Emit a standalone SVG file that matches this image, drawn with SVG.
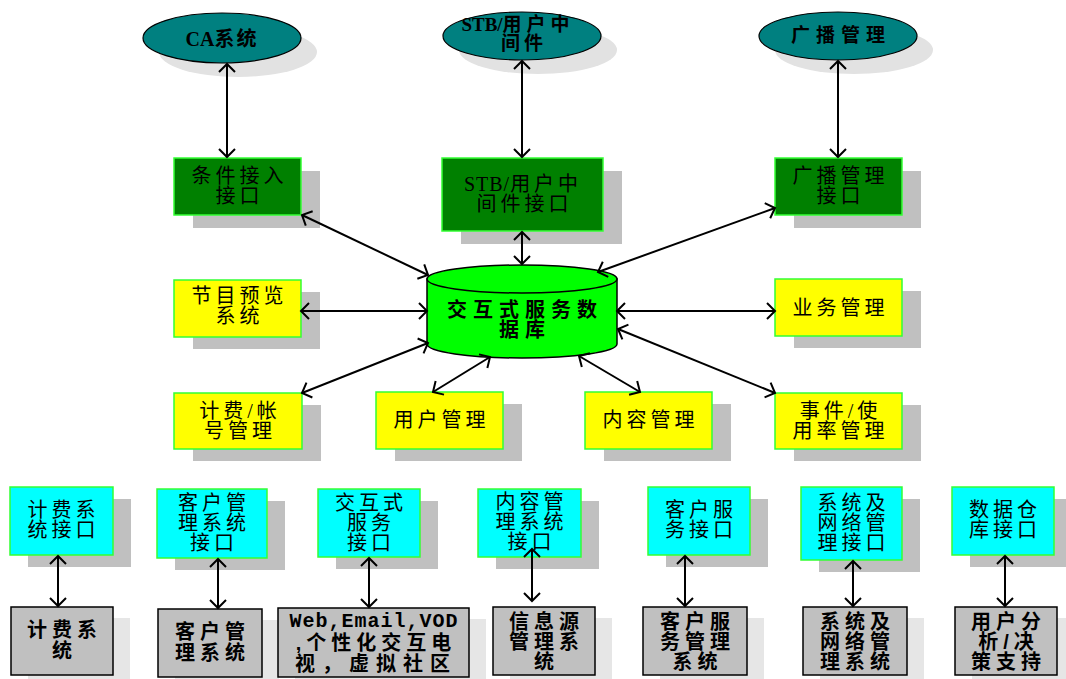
<svg xmlns="http://www.w3.org/2000/svg" width="1066" height="679" viewBox="0 0 1066 679">
<style>
.t{font-family:"Liberation Serif","Noto Sans CJK SC",serif;font-size:20px;letter-spacing:4px;text-anchor:middle;fill:#000}
.b{font-family:"Liberation Sans","Noto Sans CJK SC",sans-serif;font-weight:bold;font-size:20px;letter-spacing:5px;text-anchor:middle;fill:#000}
.m{font-family:"Liberation Mono","Noto Sans CJK SC",monospace;font-weight:bold;font-size:20px;letter-spacing:1px;text-anchor:middle;fill:#000}
.e{font-family:"Liberation Serif","Noto Sans CJK SC",serif;font-weight:bold;font-size:19px;text-anchor:middle;fill:#000}
.lat{letter-spacing:1px}
.ell{fill:#008080;stroke:#000;stroke-width:1.2}
.esh{fill:#e2e2e2}
.sh{fill:#c0c0c0}
.sh2{fill:#e6e6e6}
.g{fill:#008000;stroke:#33ff33;stroke-width:1.5}
.y{fill:#ffff00;stroke:#33ff33;stroke-width:1.5}
.c{fill:#00ffff;stroke:#33ff33;stroke-width:1.5}
.d{fill:#c0c0c0;stroke:#000;stroke-width:1.5}
.ln{stroke:#000;stroke-width:2;fill:none;marker-start:url(#ah);marker-end:url(#ah)}
</style>
<defs>
<marker id="ah" viewBox="-12 -12 24 24" markerWidth="24" markerHeight="24" refX="0" refY="0" markerUnits="userSpaceOnUse" orient="auto-start-reverse">
<path d="M-8,-8 L0,0 L-8,8" fill="none" stroke="#000" stroke-width="2"/>
</marker>
</defs>
<rect width="1066" height="679" fill="#fff"/>

<g id="ca">
<ellipse class="esh" cx="238" cy="52" rx="79" ry="25"/>
<ellipse class="ell" cx="222" cy="38" rx="79" ry="25"/>
<text class="e" x="222" y="46" style="font-size:20px">CA<tspan style="letter-spacing:2px">系统</tspan></text>
</g>
<g id="stb">
<ellipse class="esh" cx="538" cy="50" rx="79" ry="24"/>
<ellipse class="ell" cx="522" cy="36" rx="79" ry="24"/>
<text class="e" x="518" y="31">STB/<tspan style="letter-spacing:5px">用户中</tspan></text>
<text class="e" x="524" y="50" style="letter-spacing:4px">间件</text>
</g>
<g id="bc">
<ellipse class="esh" cx="854" cy="50" rx="79" ry="24"/>
<ellipse class="ell" cx="838" cy="36" rx="79" ry="24"/>
<text class="e" x="841" y="42" style="letter-spacing:6px">广播管理</text>
</g>

<g id="g1">
<rect class="sh" x="193" y="171" width="127" height="57"/>
<rect class="g" x="174" y="158" width="127" height="57"/>
<text class="t" x="239.5" y="183">条件接入</text>
<text class="t" x="239.5" y="203">接口</text>
</g>
<g id="g2">
<rect class="sh" x="461" y="171" width="161" height="73"/>
<rect class="g" x="442" y="158" width="161" height="73"/>
<text class="t" x="523" y="191"><tspan class="lat">STB/</tspan>用户中</text>
<text class="t" x="524.5" y="211">间件接口</text>
</g>
<g id="g3">
<rect class="sh" x="794" y="171" width="127" height="57"/>
<rect class="g" x="775" y="158" width="127" height="57"/>
<text class="t" x="840.5" y="183">广播管理</text>
<text class="t" x="840.5" y="203">接口</text>
</g>

<g id="db">
<path d="M427,279 V344 A95,14 0 0 0 617,344 V279 Z" fill="#00ff00" stroke="#000" stroke-width="1.5"/>
<ellipse cx="522" cy="279" rx="95" ry="14" fill="#00ff00" stroke="#000" stroke-width="1.5"/>
<text class="b" x="525" y="317" style="font-size:20px;letter-spacing:6px">交互式服务数</text>
<text class="b" x="525" y="337" style="font-size:20px;letter-spacing:6px">据库</text>
</g>

<g id="y1">
<rect class="sh" x="193" y="292" width="127" height="57"/>
<rect class="y" x="174" y="280" width="127" height="57"/>
<text class="t" x="239.5" y="303">节目预览</text>
<text class="t" x="239.5" y="323">系统</text>
</g>
<g id="y2">
<rect class="sh" x="794" y="291" width="127" height="57"/>
<rect class="y" x="775" y="279" width="127" height="57"/>
<text class="t" x="840.5" y="315">业务管理</text>
</g>
<g id="y3">
<rect class="sh" x="193" y="405" width="128" height="56"/>
<rect class="y" x="174" y="393" width="128" height="56"/>
<text class="t" x="240" y="418">计费/帐</text>
<text class="t" x="240" y="438">号管理</text>
</g>
<g id="y4">
<rect class="sh" x="395" y="404" width="127" height="57"/>
<rect class="y" x="376" y="392" width="127" height="57"/>
<text class="t" x="441.5" y="427">用户管理</text>
</g>
<g id="y5">
<rect class="sh" x="604" y="404" width="127" height="57"/>
<rect class="y" x="585" y="392" width="127" height="57"/>
<text class="t" x="650.5" y="427">内容管理</text>
</g>
<g id="y6">
<rect class="sh" x="794" y="405" width="127" height="56"/>
<rect class="y" x="775" y="393" width="127" height="56"/>
<text class="t" x="840.5" y="418">事件/使</text>
<text class="t" x="840.5" y="438">用率管理</text>
</g>

<g id="c1">
<rect class="sh" x="28" y="499" width="103" height="68"/>
<rect class="c" x="10" y="487" width="103" height="68"/>
<text class="t" x="63.5" y="517">计费系</text>
<text class="t" x="63.5" y="537">统接口</text>
</g>
<g id="c2">
<rect class="sh" x="175" y="501" width="110" height="69"/>
<rect class="c" x="157" y="489" width="110" height="69"/>
<text class="t" x="214" y="510">客户管</text>
<text class="t" x="214" y="530">理系统</text>
<text class="t" x="214" y="550">接口</text>
</g>
<g id="c3">
<rect class="sh" x="336" y="501" width="102" height="68"/>
<rect class="c" x="318" y="489" width="102" height="68"/>
<text class="t" x="371" y="510">交互式</text>
<text class="t" x="371" y="530">服务</text>
<text class="t" x="371" y="550">接口</text>
</g>
<g id="c4">
<rect class="sh" x="496" y="501" width="103" height="68"/>
<rect class="c" x="478" y="489" width="103" height="68"/>
<text class="t" x="531.5" y="509">内容管</text>
<text class="t" x="531.5" y="529">理系统</text>
<text class="t" x="531.5" y="549">接口</text>
</g>
<g id="c5">
<rect class="sh" x="666" y="499" width="102" height="68"/>
<rect class="c" x="648" y="487" width="102" height="68"/>
<text class="t" x="701" y="517">客户服</text>
<text class="t" x="701" y="537">务接口</text>
</g>
<g id="c6">
<rect class="sh" x="819" y="499" width="101" height="73"/>
<rect class="c" x="801" y="487" width="101" height="73"/>
<text class="t" x="853.5" y="510">系统及</text>
<text class="t" x="853.5" y="530">网络管</text>
<text class="t" x="853.5" y="550">理接口</text>
</g>
<g id="c7">
<rect class="sh" x="970" y="499" width="102" height="68"/>
<rect class="c" x="952" y="487" width="102" height="68"/>
<text class="t" x="1005" y="517">数据仓</text>
<text class="t" x="1005" y="537">库接口</text>
</g>

<g id="d1">
<rect class="sh2" x="28" y="618" width="102" height="68"/>
<rect class="d" x="11" y="607" width="102" height="68"/>
<text class="b" x="64.5" y="637">计费系</text>
<text class="b" x="64.5" y="658">统</text>
</g>
<g id="d2">
<rect class="sh2" x="175" y="620" width="104" height="68"/>
<rect class="d" x="158" y="609" width="104" height="68"/>
<text class="b" x="212.5" y="639">客户管</text>
<text class="b" x="212.5" y="660">理系统</text>
</g>
<g id="d3">
<rect class="sh2" x="295" y="619" width="191" height="69"/>
<rect class="d" x="278" y="608" width="191" height="69"/>
<text class="m" x="374" y="627">Web,Email,VOD</text>
<text class="b" x="376" y="650">,个性化交互电</text>
<text class="b" x="376" y="671" style="letter-spacing:7px">视，虚拟社区</text>
</g>
<g id="d4">
<rect class="sh2" x="510" y="618" width="102" height="68"/>
<rect class="d" x="493" y="607" width="102" height="68"/>
<text class="b" x="546.5" y="629">信息源</text>
<text class="b" x="546.5" y="649">管理系</text>
<text class="b" x="546.5" y="669">统</text>
</g>
<g id="d5">
<rect class="sh2" x="660" y="618" width="104" height="68"/>
<rect class="d" x="643" y="607" width="104" height="68"/>
<text class="b" x="697.5" y="629">客户服</text>
<text class="b" x="697.5" y="649">务管理</text>
<text class="b" x="697.5" y="669">系统</text>
</g>
<g id="d6">
<rect class="sh2" x="820" y="618" width="104" height="68"/>
<rect class="d" x="803" y="607" width="104" height="68"/>
<text class="b" x="857.5" y="629">系统及</text>
<text class="b" x="857.5" y="649">网络管</text>
<text class="b" x="857.5" y="669">理系统</text>
</g>
<g id="d7">
<rect class="sh2" x="972" y="618" width="102" height="68"/>
<rect class="d" x="955" y="607" width="102" height="68"/>
<text class="b" x="1008.5" y="629">用户分</text>
<text class="b" x="1008.5" y="649">析/决</text>
<text class="b" x="1008.5" y="669">策支持</text>
</g>

<g id="connectors">
<line class="ln" x1="227" y1="64" x2="227" y2="157"/>
<line class="ln" x1="522" y1="61" x2="522" y2="157"/>
<line class="ln" x1="838" y1="61" x2="838" y2="157"/>
<line class="ln" x1="522" y1="232" x2="522" y2="264"/>
<line class="ln" x1="302" y1="215" x2="428" y2="275"/>
<line class="ln" x1="775" y1="208" x2="598" y2="272"/>
<line class="ln" x1="301" y1="311" x2="427" y2="311"/>
<line class="ln" x1="617" y1="311" x2="775" y2="311"/>
<line class="ln" x1="302" y1="393" x2="428" y2="343"/>
<line class="ln" x1="433" y1="392" x2="490" y2="357"/>
<line class="ln" x1="640" y1="392" x2="579" y2="356"/>
<line class="ln" x1="775" y1="393" x2="618" y2="329"/>
<line class="ln" x1="58" y1="556" x2="58" y2="606"/>
<line class="ln" x1="218" y1="559" x2="218" y2="608"/>
<line class="ln" x1="369" y1="558" x2="369" y2="607"/>
<line class="ln" x1="532" y1="549" x2="532" y2="601"/>
<line class="ln" x1="685" y1="556" x2="685" y2="606"/>
<line class="ln" x1="853" y1="561" x2="853" y2="606"/>
<line class="ln" x1="1005" y1="556" x2="1005" y2="606"/>
</g>
</svg>
